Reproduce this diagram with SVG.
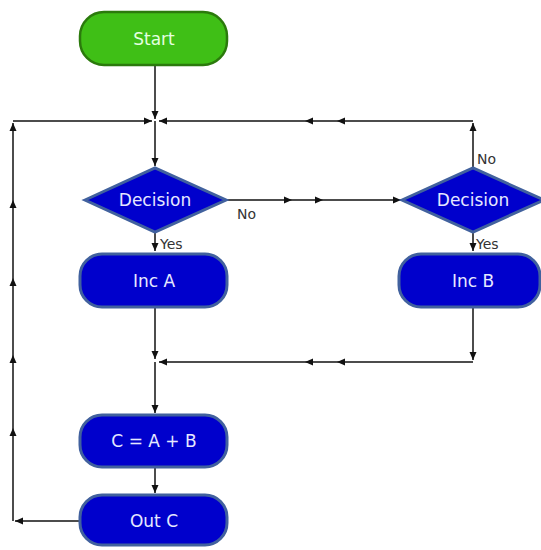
<svg xmlns="http://www.w3.org/2000/svg" width="541" height="550" viewBox="0 0 541 550">
<defs>
<marker id="ah" markerUnits="userSpaceOnUse" markerWidth="9" markerHeight="8" refX="8" refY="3.5" orient="auto" overflow="visible">
<path d="M0,0 L8,3.5 L0,7 Z" fill="#111"/>
</marker>
</defs>
<style>
.bg{fill:#ffffff}
.conn{fill:none;stroke:#111;stroke-width:1.5;marker-end:url(#ah)}
.mid{marker-mid:url(#ah)}
.start{fill:#3fbf16;stroke:#2b7a0c;stroke-width:2.5}
.blue{fill:#0000cc;stroke:#41619e;stroke-width:3}
.t{font-family:"DejaVu Sans","Verdana",sans-serif;font-size:17px;text-anchor:middle;dominant-baseline:central}
.tw{fill:#e6e8ff}
.tg{fill:#e4ffe0}
.lbl{font-family:"DejaVu Sans","Verdana",sans-serif;font-size:14px;fill:#333}
</style>
<rect class="bg" x="0" y="0" width="541" height="550"/>
<g id="connectors">
<line class="conn" x1="155" y1="66" x2="155" y2="119"/>
<polyline class="conn" points="13,121 152,121"/>
<polyline class="conn" points="155,121 155,166"/>
<polyline class="conn" points="473,168 473,123"/>
<polyline class="conn mid" points="473,121 337,121 305,121 159,121"/>
<polyline class="conn mid" points="227,200 292,200 323,200 401,200"/>
<polyline class="conn" points="155,232 155,251"/>
<polyline class="conn" points="473,232 473,251"/>
<polyline class="conn" points="155,307 155,359"/>
<polyline class="conn" points="155,362 155,413"/>
<polyline class="conn" points="473,307 473,360"/>
<polyline class="conn mid" points="473,362 337,362 305,362 159,362"/>
<polyline class="conn" points="155,467 155,493"/>
<polyline class="conn" points="80,521 15,521"/>
<polyline class="conn mid" points="13,521 13,428 13,355 13,278 13,200 13,123"/>
</g>
<g id="start">
<rect class="start" x="80" y="12" width="147" height="53" rx="24" ry="24"/>
<text class="t tg" x="154" y="39">Start</text>
</g>
<g id="decision1">
<polygon class="blue" points="85,200 155,168 226,200 155,232"/>
<text class="t tw" x="155" y="200">Decision</text>
</g>
<g id="decision2">
<polygon class="blue" points="402,200 473,168 544,200 473,232"/>
<text class="t tw" x="473" y="200">Decision</text>
</g>
<g id="incA">
<rect class="blue" x="80" y="254" width="147" height="53" rx="22" ry="22"/>
<text class="t tw" x="154" y="281">Inc A</text>
</g>
<g id="incB">
<rect class="blue" x="399" y="254" width="141" height="53" rx="22" ry="22"/>
<text class="t tw" x="473" y="281">Inc B</text>
</g>
<g id="calc">
<rect class="blue" x="80" y="415" width="147" height="52" rx="22" ry="22"/>
<text class="t tw" x="154" y="441">C = A + B</text>
</g>
<g id="outC">
<rect class="blue" x="80" y="495" width="147" height="50" rx="22" ry="22"/>
<text class="t tw" x="154" y="521">Out C</text>
</g>
<g id="labels">
<text class="lbl" x="160" y="249">Yes</text>
<text class="lbl" x="237" y="219">No</text>
<text class="lbl" x="477" y="164">No</text>
<text class="lbl" x="476" y="249">Yes</text>
</g>
</svg>
